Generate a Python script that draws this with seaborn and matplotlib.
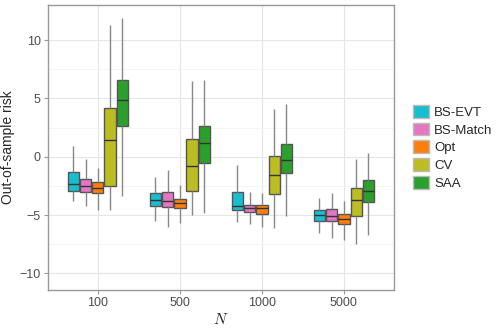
import numpy as np
import pandas as pd
import seaborn as sns
import matplotlib.pyplot as plt
from matplotlib.patches import Patch

# box summaries: low whisker, Q1, median, Q3, high whisker
sizes = ['100', '500', '1000', '5000']
methods = ['BS-EVT', 'BS-Match', 'Opt', 'CV', 'SAA']
colors = ['#17becf', '#e377c2', '#ff7f0e', '#bcbd22', '#2ca02c']

bs_evt = [[-3.8, -2.9, -2.3, -1.3, 0.9],
          [-5.5, -4.2, -3.7, -3.1, -1.7],
          [-5.6, -4.6, -4.2, -3.0, -0.7],
          [-6.5, -5.5, -5.0, -4.6, -3.5]]
bs_match = [[-4.2, -3.0, -2.5, -1.9, -0.2],
            [-6.0, -4.3, -3.8, -3.0, -1.1],
            [-5.8, -4.7, -4.4, -4.1, -3.0],
            [-7.0, -5.5, -5.1, -4.5, -3.1]]
opt = [[-4.6, -3.1, -2.7, -2.2, -1.0],
       [-5.7, -4.4, -4.0, -3.6, -2.4],
       [-6.0, -4.9, -4.4, -4.1, -3.1],
       [-7.1, -5.8, -5.3, -4.9, -3.8]]
cv = [[-4.6, -2.5, 1.4, 4.2, 11.3],
      [-5.0, -2.9, -0.8, 1.5, 6.5],
      [-6.1, -3.2, -1.6, 0.1, 4.1],
      [-7.5, -5.1, -3.7, -2.7, -0.2]]
saa = [[-3.4, 2.6, 4.9, 6.6, 11.9],
       [-4.8, -0.5, 1.2, 2.6, 6.6],
       [-5.1, -1.4, -0.3, 1.1, 4.5],
       [-6.7, -3.9, -2.9, -2.0, 0.3]]

rows = []
for m, vals in zip(methods, [bs_evt, bs_match, opt, cv, saa]):
    for n, v in zip(sizes, vals):
        for x in v:
            rows.append({'N': n, 'method': m, 'risk': x})
df = pd.DataFrame(rows)

sns.set_style('whitegrid')
plt.rcParams['font.family'] = ['Liberation Sans', 'DejaVu Sans']
plt.rcParams['mathtext.fontset'] = 'cm'

fig = plt.figure(figsize=(4.98, 3.32), dpi=100)
ax = fig.add_axes([0.096, 0.127, 0.695, 0.858])

sns.boxplot(data=df, x='N', y='risk', hue='method', order=sizes, hue_order=methods,
            palette=colors, whis=(0, 100), width=0.75, gap=0.08, saturation=1,
            linewidth=1.0, linecolor='#555555', showfliers=False,
            whiskerprops={'color': '#888888'}, capprops={'visible': False},
            medianprops={'color': '#333333'}, legend=False, ax=ax)

ax.set_xlim(-0.61, 3.61)
ax.set_ylim(-11.4, 13.0)
ax.set_yticks([-10, -5, 0, 5, 10])
ax.set_yticks([-7.5, -2.5, 2.5, 7.5], minor=True)
ax.grid(True, which='major', color='#e6e6e6', linewidth=0.8)
ax.grid(True, which='minor', axis='y', color='#f2f2f2', linewidth=0.5)
ax.set_axisbelow(True)
for s in ax.spines.values():
    s.set_color('#999999')
    s.set_linewidth(1.0)
ax.tick_params(axis='both', which='major', length=3, color='#999999', pad=2,
               labelsize=9, labelcolor='#4d4d4d', left=True, bottom=True)
ax.tick_params(axis='y', which='minor', length=0)
ax.set_xlabel('$N$', fontsize=11, labelpad=2)
ax.set_ylabel('Out-of-sample risk', fontsize=10, labelpad=3)

handles = [Patch(facecolor=c, edgecolor='#bbbbbb', label=m) for m, c in zip(methods, colors)]
ax.legend(handles=handles, loc='center left', bbox_to_anchor=(1.04, 0.5), frameon=False,
          fontsize=9.5, handlelength=1.2, handleheight=1.1, handletextpad=0.4,
          labelspacing=0.3, borderaxespad=0)

plt.savefig('out.png', dpi=100)
